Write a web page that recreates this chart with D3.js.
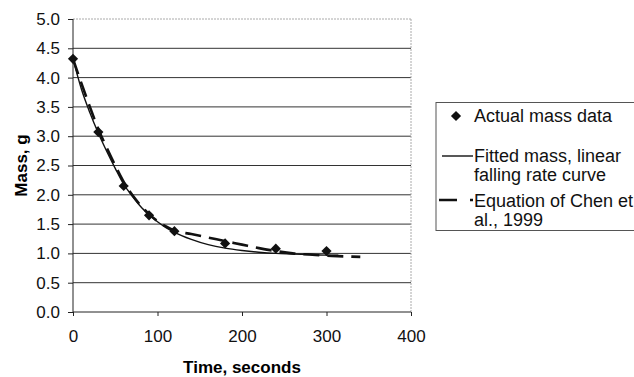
<!DOCTYPE html>
<html>
<head>
<meta charset="utf-8">
<script src="https://cdn.jsdelivr.net/npm/d3@7"></script>
<style>
  body { margin: 0; background: #fff; }
  svg { font-family: Arial, "Liberation Sans", sans-serif; }
</style>
</head>
<body>
<script>
// datos medidos (puntos)
var tiempoDatos = [0, 30, 60, 90, 120, 180, 240, 300];
var masaDatos   = [4.32, 3.07, 2.15, 1.65, 1.38, 1.17, 1.08, 1.04];

// curva ajustada (linea continua)
var tiempoAjuste = [0, 10, 20, 30, 40, 50, 60, 70, 80, 90, 100, 110, 120, 140, 160, 180, 200, 220, 240, 260, 280, 300, 314];
var masaAjuste   = [4.32, 3.80, 3.40, 3.05, 2.74, 2.45, 2.18, 1.98, 1.80, 1.66, 1.54, 1.44, 1.36, 1.24, 1.15, 1.09, 1.05, 1.02, 1.00, 0.99, 0.98, 0.97, 0.97];

// ecuacion de Chen et al. (linea discontinua)
var tiempoChen = [0, 10, 20, 30, 40, 50, 60, 70, 80, 90, 100, 110, 120, 140, 160, 180, 200, 220, 240, 260, 280, 300, 320, 340];
var masaChen   = [4.32, 3.90, 3.50, 3.12, 2.80, 2.50, 2.22, 2.00, 1.82, 1.67, 1.55, 1.46, 1.39, 1.33, 1.27, 1.21, 1.15, 1.09, 1.04, 1.00, 0.98, 0.96, 0.95, 0.94];

var ticksX = [0, 100, 200, 300, 400];
var ticksY = [0, 0.5, 1, 1.5, 2, 2.5, 3, 3.5, 4, 4.5, 5];

var leyenda = ["Actual mass data", "Fitted mass, linear|falling rate curve", "Equation of Chen et|al., 1999"];

var vis = { ancho: 634, alto: 377, izq: 73, der: 411, arriba: 19, abajo: 312 };

var svg = d3.select("body").append("svg")
    .attr("width", vis.ancho)
    .attr("height", vis.alto);

// escalas
var x = d3.scaleLinear().domain([0, 400]).range([vis.izq, vis.der]);
var y = d3.scaleLinear().domain([0, 5]).range([vis.abajo, vis.arriba]);

// rejilla horizontal
svg.append("g").selectAll("line")
    .data(ticksY.filter(function(d) { return d > 0; }))
    .enter().append("line")
    .attr("x1", vis.izq).attr("x2", vis.der)
    .attr("y1", function(d) { return y(d); })
    .attr("y2", function(d) { return y(d); })
    .attr("stroke", function(d) { return d === 5 ? "#aaa" : "#333"; })
    .attr("stroke-dasharray", function(d) { return d === 5 ? "2,1" : null; })
    .attr("stroke-width", 1);

// borde derecho punteado
svg.append("line")
    .attr("x1", vis.der).attr("x2", vis.der)
    .attr("y1", vis.arriba).attr("y2", vis.abajo)
    .attr("stroke", "#aaa").attr("stroke-dasharray", "2,1");

// ejes
var ejeX = d3.axisBottom(x).tickValues(ticksX).tickSize(4).tickPadding(14)
    .tickFormat(d3.format("d"));
var ejeY = d3.axisLeft(y).tickValues(ticksY).tickSize(5).tickPadding(8)
    .tickFormat(d3.format(".1f"));

var gx = svg.append("g")
    .attr("transform", "translate(0," + vis.abajo + ")")
    .call(ejeX);
var gy = svg.append("g")
    .attr("transform", "translate(" + vis.izq + ",0)")
    .call(ejeY);

[gx, gy].forEach(function(g) {
    g.select(".domain").attr("stroke", "#222");
    g.selectAll(".tick line").attr("stroke", "#222");
    g.selectAll("text").attr("font-size", 17).attr("fill", "#111")
        .attr("font-family", "Arial, 'Liberation Sans', sans-serif");
});
gy.select(".domain").attr("d", "M0," + vis.abajo + "V" + vis.arriba);
gx.select(".domain").attr("d", "M" + vis.izq + ",0H" + vis.der);

// titulos de ejes
svg.append("text")
    .attr("x", (vis.izq + vis.der) / 2).attr("y", 373)
    .attr("text-anchor", "middle")
    .attr("font-size", 17).attr("font-weight", "bold")
    .text("Time, seconds");

svg.append("text")
    .attr("transform", "translate(27," + ((vis.arriba + vis.abajo) / 2) + ") rotate(-90)")
    .attr("text-anchor", "middle")
    .attr("font-size", 17).attr("font-weight", "bold")
    .text("Mass, g");

// lineas
var linea = d3.line()
    .x(function(d) { return x(d[0]); })
    .y(function(d) { return y(d[1]); })
    .curve(d3.curveMonotoneX);

svg.append("path")
    .datum(d3.zip(tiempoChen, masaChen))
    .attr("d", linea)
    .attr("fill", "none").attr("stroke", "#111")
    .attr("stroke-width", 2.6).attr("stroke-dasharray", "16,8");

svg.append("path")
    .datum(d3.zip(tiempoAjuste, masaAjuste))
    .attr("d", linea)
    .attr("fill", "none").attr("stroke", "#111")
    .attr("stroke-width", 1.4);

// puntos en forma de rombo
var rombo = d3.symbol().type(d3.symbolSquare).size(52);
svg.append("g").selectAll("path")
    .data(d3.zip(tiempoDatos, masaDatos))
    .enter().append("path")
    .attr("d", rombo)
    .attr("transform", function(d) {
        return "translate(" + x(d[0]) + "," + y(d[1]) + ") rotate(45)";
    })
    .attr("fill", "#111");

// leyenda
var ley = svg.append("g");
ley.append("rect")
    .attr("x", 436).attr("y", 102.5)
    .attr("width", 210).attr("height", 128)
    .attr("fill", "#fff").attr("stroke", "#555").attr("stroke-width", 1);

ley.append("path")
    .attr("d", rombo)
    .attr("transform", "translate(456,116) rotate(45)")
    .attr("fill", "#111");
ley.append("line")
    .attr("x1", 442).attr("x2", 473).attr("y1", 156).attr("y2", 156)
    .attr("stroke", "#111").attr("stroke-width", 1.4);
ley.append("line")
    .attr("x1", 439).attr("x2", 473).attr("y1", 200).attr("y2", 200)
    .attr("stroke", "#111").attr("stroke-width", 2.6).attr("stroke-dasharray", "18,13");

var baseY = [122, 162, 207];
leyenda.forEach(function(t, i) {
    var txt = ley.append("text")
        .attr("x", 474).attr("y", baseY[i])
        .attr("font-size", 18).attr("fill", "#111");
    t.split("|").forEach(function(parte, j) {
        txt.append("tspan").attr("x", 474).attr("dy", j === 0 ? 0 : 18.5).text(parte);
    });
});
</script>
</body>
</html>
